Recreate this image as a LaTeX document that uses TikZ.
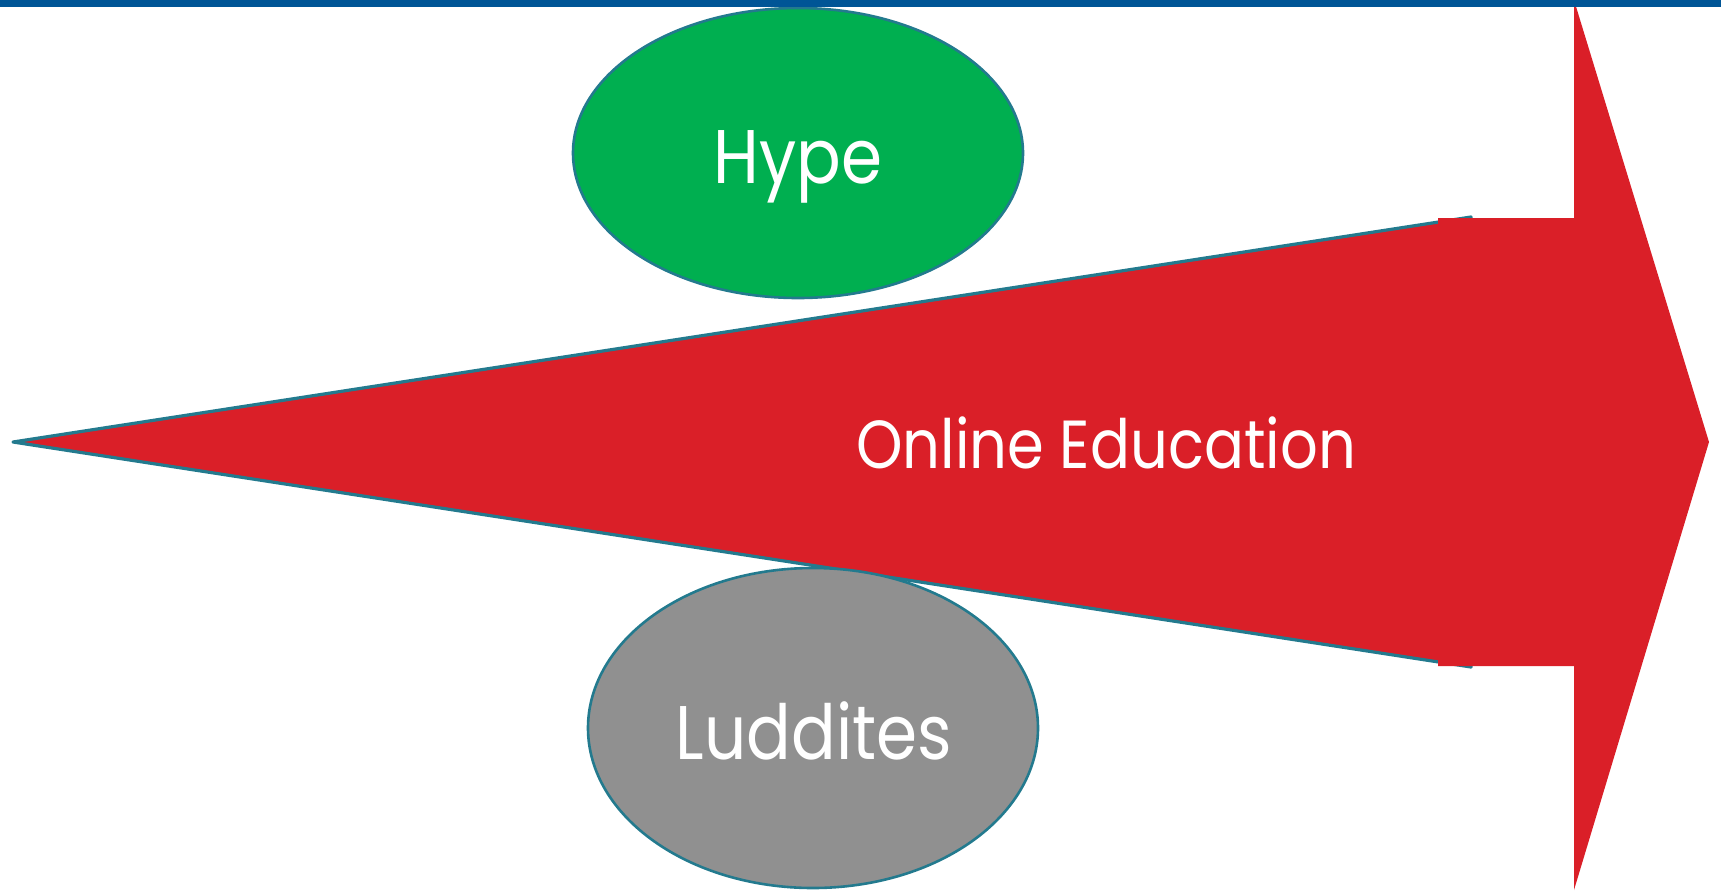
\documentclass[tikz,border=0pt]{standalone}
\usepackage{fontspec}
\usetikzlibrary{shapes.geometric}
\newfontfamily\labelfont{Poppins}[FakeStretch=0.87]
\definecolor{arrowred}{HTML}{DA1F28}
\definecolor{hypegreen}{HTML}{00AF50}
\definecolor{ludgray}{HTML}{909090}
\definecolor{edgeteal}{HTML}{237A8E}
\definecolor{barblue}{HTML}{005596}
\tikzset{
  blob/.style={ellipse, draw=edgeteal, line width=1.3pt, minimum width=225pt, inner sep=0pt},
  lbl/.style={text=white, anchor=base, inner sep=0pt, font=\labelfont\fontsize{38}{40}\selectfont},
}
\begin{document}
\begin{tikzpicture}[x=0.5pt, y=-0.5pt]
\useasboundingbox (0,0) rectangle (1721,890);
% wedge
\coordinate (wtip) at (13,442);
\coordinate (wtop) at (1471,217);
\coordinate (wbot) at (1471,667);
\draw[fill=arrowred, draw=edgeteal, line width=1.6pt, line join=round] (wtip) -- (wtop) -- (wbot) -- cycle;
% big arrow
\fill[arrowred] (1438,218) -- (1574,218) -- (1574,0) -- (1709,442) -- (1574,890) -- (1574,666) -- (1438,666) -- cycle;
% ellipses
\node[blob, fill=hypegreen, minimum height=145pt] (hype) at (798,153) {};
\node[blob, fill=ludgray, minimum height=160pt] (lud) at (813,728) {};
% labels
\node[lbl] (hypetxt) at (798,183) {Hype};
\node[lbl] (ludtxt) at (814,759) {Luddites};
\node[lbl, font=\labelfont\fontsize{34}{36}\selectfont] (online) at (1106,468) {Online Education};
% top bar
\fill[barblue] (0,0) rectangle (1721,7);
\end{tikzpicture}
\end{document}
